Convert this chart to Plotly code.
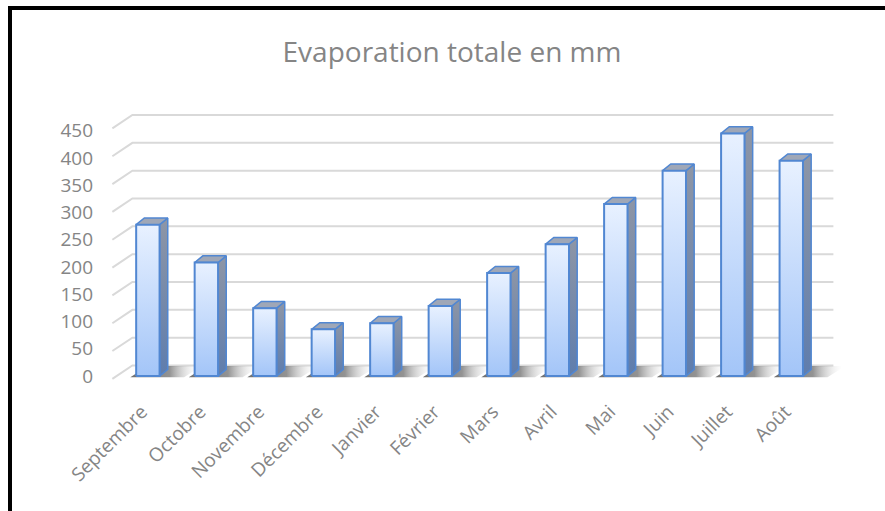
import plotly.graph_objects as go

months = ["Septembre", "Octobre", "Novembre", "Décembre", "Janvier", "Février",
          "Mars", "Avril", "Mai", "Juin", "Juillet", "Août"]
evaporation = [272, 204, 122, 84, 95, 126, 185, 237, 309, 369, 436, 387]
y_ticks = [0, 50, 100, 150, 200, 250, 300, 350, 400, 450]

# 3D look parameters (style)
HALF = 0.2        # half width of bar front face (category units)
DX = 0.14         # depth offset in x
DY = 12           # depth offset in y (value units)
BACK_DY = 19
FRONT_DX = -0.607 + 0.265
FRONT_DY = -5

GRID = "#d9d9d9"
TXT = "#858585"
OUTLINE = "#5187d2"

fig = go.Figure()

# back wall gridlines + floor diagonals
x_left_back = -0.265
x_right_back = 11.72
for v in y_ticks:
    fig.add_trace(go.Scatter(
        x=[x_left_back + FRONT_DX, x_left_back, x_right_back],
        y=[v + FRONT_DY, v + BACK_DY, v + BACK_DY],
        mode="lines", line=dict(color=GRID, width=2),
        hoverinfo="skip", showlegend=False))

# shadows on the floor
for i, v in enumerate(evaporation):
    x0, x1 = i - HALF, i + HALF
    fig.add_trace(go.Scatter(
        x=[x0 - 0.1, x1 + 0.42, x1 + 0.42 + 0.3, x0 + 0.2, x0 - 0.1],
        y=[-2, -2, BACK_DY - 1, BACK_DY - 1, -2],
        mode="lines", line=dict(width=0), fill="toself",
        fillgradient=dict(type="horizontal",
                          colorscale=[[0, "rgba(95,95,95,0.9)"],
                                      [0.55, "rgba(120,120,120,0.8)"],
                                      [1, "rgba(255,255,255,0)"]]),
        hoverinfo="skip", showlegend=False))

# bars
for i, v in enumerate(evaporation):
    x0, x1 = i - HALF, i + HALF
    # side face
    fig.add_trace(go.Scatter(
        x=[x1, x1 + DX, x1 + DX, x1, x1],
        y=[0, DY, v + DY, v, 0],
        mode="lines", line=dict(color=OUTLINE, width=1.5), fill="toself",
        fillgradient=dict(type="vertical",
                          colorscale=[[0, "#5f7dad"], [1, "#8e96a6"]]),
        hoverinfo="skip", showlegend=False))
    # top face
    fig.add_trace(go.Scatter(
        x=[x0, x1, x1 + DX, x0 + DX, x0],
        y=[v, v, v + DY, v + DY, v],
        mode="lines", line=dict(color=OUTLINE, width=1.5), fill="toself",
        fillcolor="#9fa7b7",
        hoverinfo="skip", showlegend=False))
    # front face
    fig.add_trace(go.Scatter(
        x=[x0, x1, x1, x0, x0],
        y=[0, 0, v, v, 0],
        mode="lines", line=dict(color=OUTLINE, width=2), fill="toself",
        fillgradient=dict(type="vertical",
                          colorscale=[[0, "#a3c5f8"], [1, "#e8f1ff"]]),
        hoverinfo="skip", showlegend=False))

L, R, T, B = 104, 44, 95, 121
W, H = 885, 511
pw, ph = W - L - R, H - T - B

def px_x(p):
    return (p - L) / pw

def px_y(p):
    return (H - B - p) / ph

fig.update_layout(
    width=W, height=H, autosize=False,
    margin=dict(l=L, r=R, t=T, b=B, pad=0),
    paper_bgcolor="white", plot_bgcolor="white",
    font=dict(family="Open Sans", color=TXT),
    title=dict(text="Evaporation totale en mm", xref="container", yref="container",
               x=452 / W, y=1 - 52 / H, xanchor="center", yanchor="middle",
               font=dict(family="Open Sans", size=28, color=TXT)),
    xaxis=dict(range=[-0.75, 11.85], tickmode="array",
               tickvals=list(range(len(months))), ticktext=months,
               tickangle=-45, tickfont=dict(size=19, color=TXT),
               showgrid=False, zeroline=False, showline=False, ticks="",
               ticklabelstandoff=6, ticklabelshift=-6, fixedrange=True),
    yaxis=dict(range=[-25, 505], tickmode="array",
               tickvals=[t * 0.98 for t in y_ticks], ticktext=[str(t) for t in y_ticks],
               tickfont=dict(size=19, color=TXT),
               showgrid=False, zeroline=False, showline=False, ticks="",
               ticklabelstandoff=10, fixedrange=True),
    shapes=[
        dict(type="line", xref="paper", yref="paper",
             x0=px_x(8), x1=px_x(890), y0=px_y(8), y1=px_y(8),
             line=dict(color="black", width=4)),
        dict(type="line", xref="paper", yref="paper",
             x0=px_x(10), x1=px_x(10), y0=px_y(6), y1=px_y(515),
             line=dict(color="black", width=4)),
    ],
    showlegend=False,
)

fig.write_html("out.html")
